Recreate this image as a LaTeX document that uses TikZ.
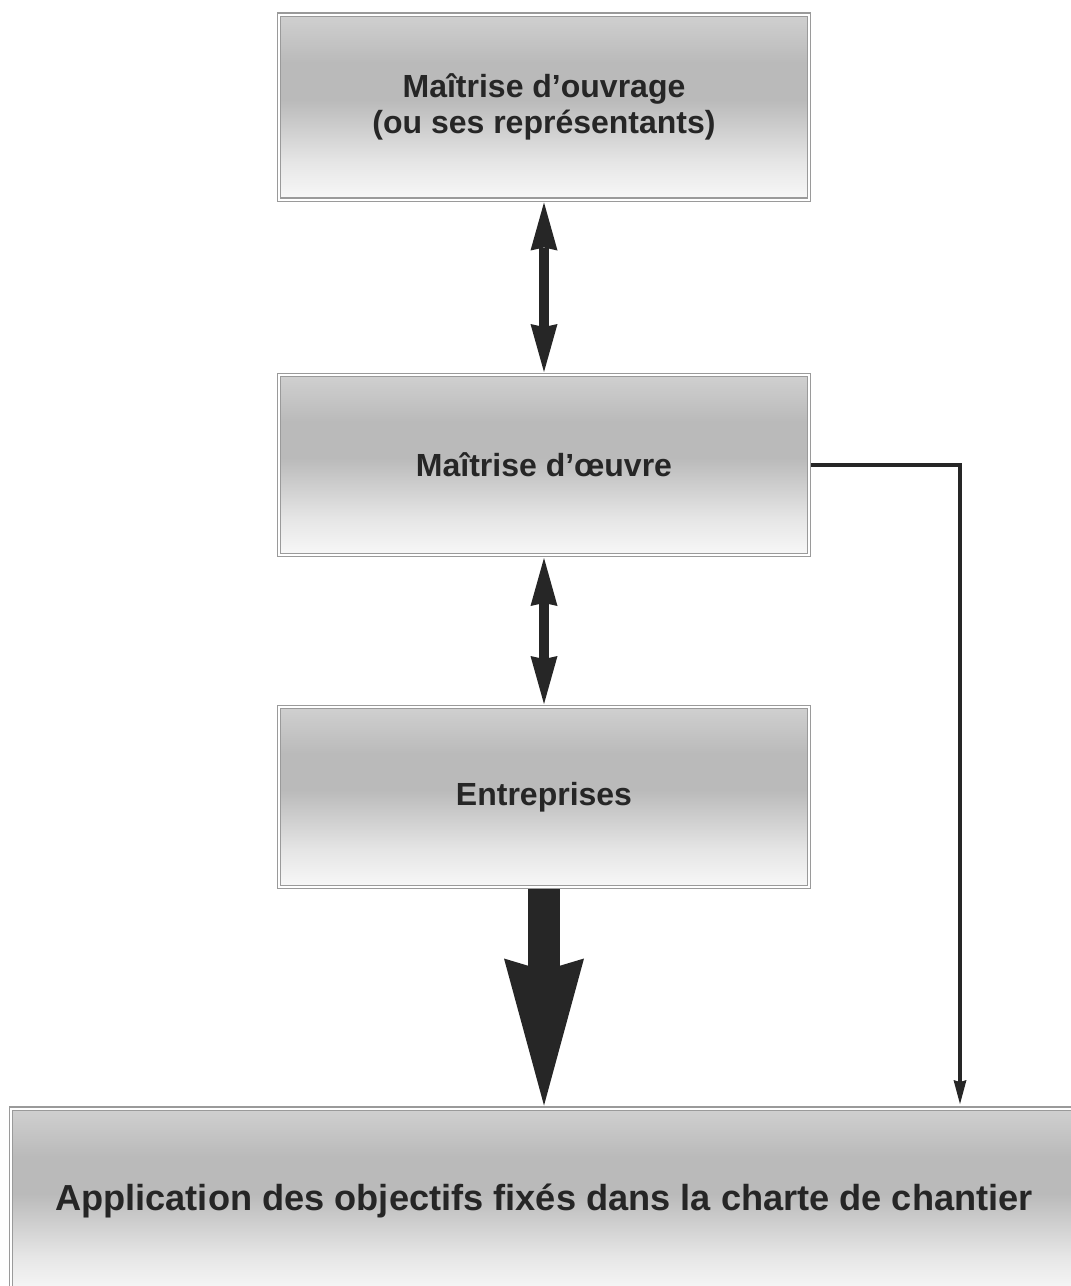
\documentclass[tikz,border=0pt]{standalone}
\usepackage{fontspec}
\setmainfont{Liberation Sans}
\usetikzlibrary{arrows.meta}

\definecolor{inkgray}{HTML}{262626}
\definecolor{framegray}{HTML}{9A9A9A}
\definecolor{shadetop}{HTML}{D0D0D0}
\definecolor{shadedark}{HTML}{BABABA}
\definecolor{shadelight}{HTML}{E6E6E6}
\definecolor{shadebottom}{HTML}{F8F8F8}
\pgfdeclareverticalshading{boxshade}{100bp}{color(0bp)=(shadebottom); color(25bp)=(shadebottom); color(35bp)=(shadelight); color(52bp)=(shadedark); color(62bp)=(shadedark); color(75bp)=(shadetop); color(100bp)=(shadetop)}

\begin{document}
\begin{tikzpicture}[x=1pt,y=-1pt,
	box/.style={draw=framegray,double=white,double distance=2pt,line width=1.2pt,shading=boxshade,inner sep=0,outer sep=2pt,text=inkgray,align=center,font=\bfseries\fontsize{32}{36}\selectfont},
	twoway/.style={draw=inkgray,line width=10pt,{Stealth[length=48pt,width=27pt,inset=3pt,line width=0pt]}-{Stealth[length=48pt,width=27pt,inset=3pt,line width=0pt]},shorten <=1pt,shorten >=1pt},
	bigway/.style={draw=inkgray,line width=32pt,-{Stealth[length=147pt,width=80pt,inset=12pt,line width=0pt]},shorten >=1pt},
	sideway/.style={draw=inkgray,line width=4pt,-{Stealth[length=24pt,width=13pt,inset=2pt,line width=0pt]}}]
	\clip (0,0) rectangle (1071,1286);
	\node[box,minimum width=530pt,minimum height=185pt] (ouvrage) at (544,107) {Maîtrise d’ouvrage\\(ou ses représentants)};
	\node[box,minimum width=530pt,minimum height=180pt] (oeuvre) at (544,465) {Maîtrise d’œuvre};
	\node[box,minimum width=530pt,minimum height=180pt] (ent) at (544,797) {Entreprises};
	\node[box,minimum width=1066pt,minimum height=185pt,font=\bfseries\fontsize{36.2}{40}\selectfont] (appl) at (544,1201) {Application des objectifs fixés dans la charte de chantier};
	\coordinate (sidein) at (960,1104);
	\draw[twoway] (ouvrage) -- (oeuvre);
	\draw[twoway] (oeuvre) -- (ent);
	\draw[bigway] (ent) -- (appl);
	\draw[sideway] (oeuvre.east) -| (sidein);
\end{tikzpicture}
\end{document}
